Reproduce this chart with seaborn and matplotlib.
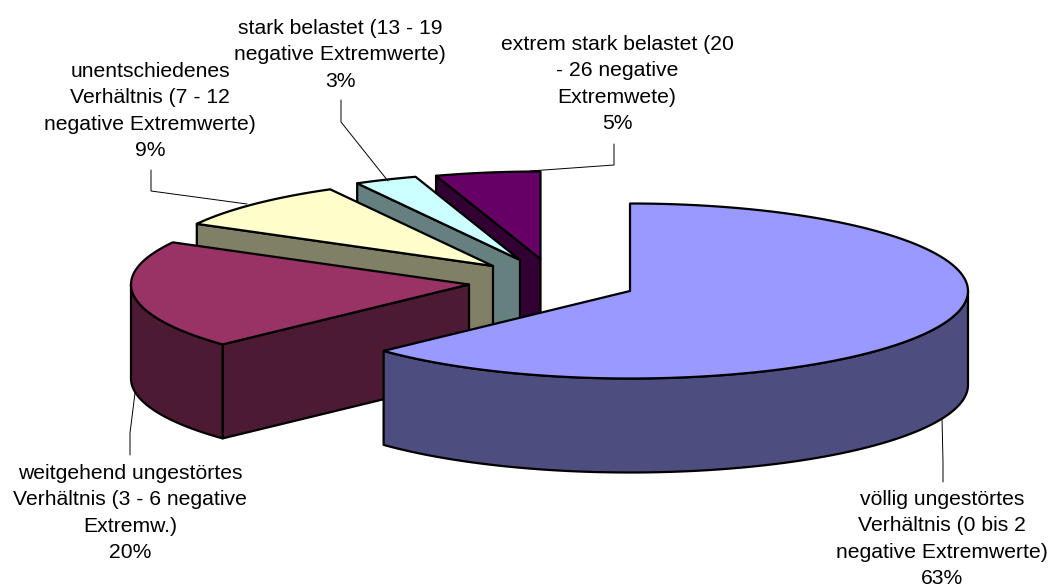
import numpy as np
import matplotlib
matplotlib.use("Agg")
import matplotlib.pyplot as plt
import seaborn as sns

# Share of each category in percent, clockwise from twelve o'clock
categories = [
    "völlig ungestörtes\nVerhältnis (0 bis 2\nnegative Extremwerte)",
    "weitgehend ungestörtes\nVerhältnis (3 - 6 negative\nExtremw.)",
    "unentschiedenes\nVerhältnis (7 - 12\nnegative Extremwerte)",
    "stark belastet (13 - 19\nnegative Extremwerte)",
    "extrem stark belastet (20\n- 26 negative\nExtremwete)",
]
shares = [63, 20, 9, 3, 5]
top_colors = ["#9999FF", "#993366", "#FFFFCC", "#CCFFFF", "#660066"]

# Geometry of the exploded pie in figure pixels
apexes = [(630, 291), (469, 284.5), (493, 266), (520, 260), (540.5, 259)]
RX, RY, DEPTH = 338, 87.5, 94

# Label anchors (centre x, centre y of the block) and leader paths
label_pos = [(942, 539), (130, 513), (150, 111), (340, 55), (617, 84)]
leaders = [
    [(942, 418), (943, 462), (943, 482)],
    [(135, 393), (130, 433), (130, 455)],
    [(151, 170), (151, 191), (247, 204)],
    [(341, 100), (341, 122), (388, 181)],
    [(614, 144), (614, 165), (530, 171)],
]

sns.set_theme(style="white")
plt.rcParams["font.family"] = ["Liberation Sans", "DejaVu Sans"]

fig = plt.figure(figsize=(10.49, 5.87), dpi=100, facecolor="white")
ax = fig.add_axes([0, 0, 1, 1])
ax.set_xlim(0, 1049)
ax.set_ylim(587, 0)
ax.axis("off")

wall_colors = [tuple(c * 0.5 for c in sns.color_palette([h])[0]) for h in top_colors]
bounds = np.concatenate([[0], np.cumsum(shares)]) / np.sum(shares) * 2 * np.pi


def rim(apex, t0, t1, drop=0.0):
    t = np.linspace(t0, t1, 120)
    return apex[0] + RX * np.sin(t), apex[1] - RY * np.cos(t) + drop


edge = dict(edgecolor="black", linewidth=1.6, joinstyle="round")

# Paint from the back slice to the front one so nearer slices overlap the rest
for i in range(len(shares) - 1, -1, -1):
    apex = apexes[i]
    t0, t1 = bounds[i], bounds[i + 1]

    # Radial wall along the leading cut, visible on the left half of the pie
    if t0 > np.pi:
        sx, sy = rim(apex, t0, t0)
        sx, sy = sx[0], sy[0]
        ax.fill([sx, apex[0], apex[0], sx],
                [sy, apex[1], apex[1] + DEPTH, sy + DEPTH],
                facecolor=wall_colors[i], **edge)

    # Outer cylinder wall on the part of the rim that faces the viewer
    a0, a1 = max(t0, np.pi / 2), min(t1, 3 * np.pi / 2)
    if a1 > a0:
        xt, yt = rim(apex, a0, a1)
        xb, yb = rim(apex, a0, a1, DEPTH)
        ax.fill(np.r_[xt, xb[::-1]], np.r_[yt, yb[::-1]],
                facecolor=wall_colors[i], **edge)

    # Top face of the slice
    xt, yt = rim(apex, t0, t1)
    ax.fill(np.r_[apex[0], xt], np.r_[apex[1], yt], facecolor=top_colors[i], **edge)

for path in leaders:
    xs, ys = zip(*path)
    ax.plot(xs, ys, color="black", lw=0.7, solid_joinstyle="miter")

for name, share, (x, y) in zip(categories, shares, label_pos):
    ax.text(x, y, f"{name}\n{share}%", ha="center", va="center",
            fontsize=15.2, color="black", linespacing=1.49)

fig.savefig("out.png", dpi=100, facecolor="white")
